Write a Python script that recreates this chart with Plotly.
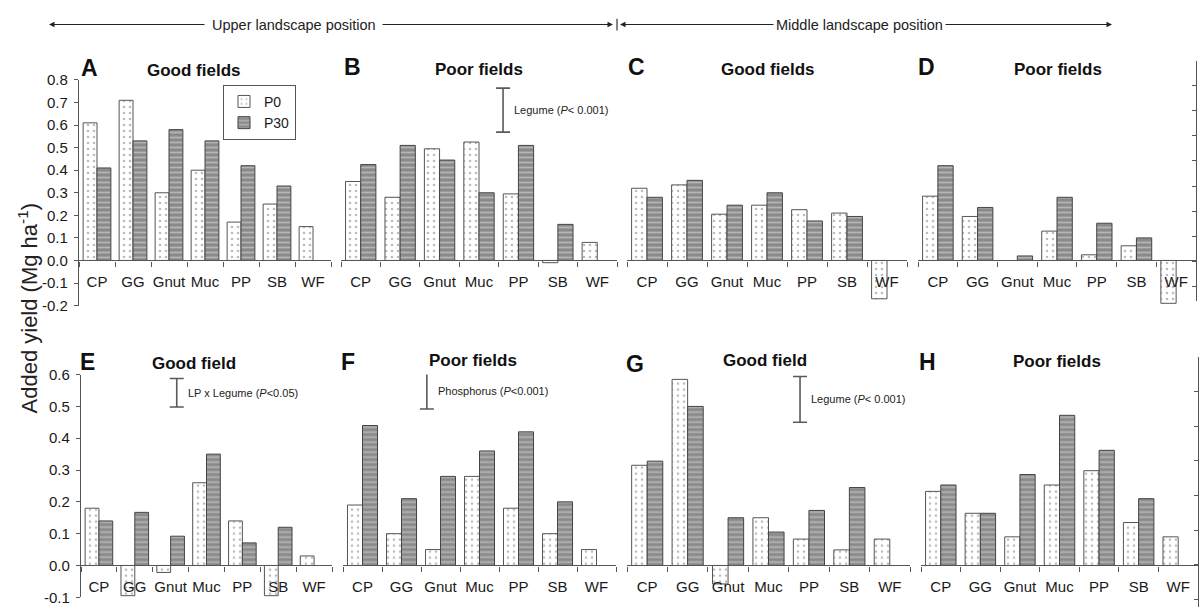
import plotly.graph_objects as go

W, H = 1201, 615
FONT = "Liberation Sans, Arial, Helvetica, sans-serif"

crops = ["CP", "GG", "Gnut", "Muc", "PP", "SB", "WF"]

# Added yield (Mg/ha), P0 and P30 for each panel
A_p0 = [0.61, 0.71, 0.30, 0.40, 0.17, 0.25, 0.15]
A_p30 = [0.41, 0.53, 0.58, 0.53, 0.42, 0.33, None]
B_p0 = [0.35, 0.28, 0.495, 0.525, 0.295, -0.01, 0.08]
B_p30 = [0.425, 0.51, 0.445, 0.30, 0.51, 0.16, None]
C_p0 = [0.32, 0.335, 0.205, 0.245, 0.225, 0.21, -0.17]
C_p30 = [0.28, 0.355, 0.245, 0.30, 0.175, 0.195, None]
D_p0 = [0.285, 0.195, None, 0.13, 0.025, 0.065, -0.19]
D_p30 = [0.42, 0.235, 0.02, 0.28, 0.165, 0.10, None]
E_p0 = [0.18, -0.095, -0.022, 0.26, 0.14, -0.095, 0.03]
E_p30 = [0.14, 0.167, 0.092, 0.35, 0.071, 0.12, None]
F_p0 = [0.19, 0.10, 0.05, 0.28, 0.18, 0.10, 0.05]
F_p30 = [0.44, 0.21, 0.28, 0.36, 0.42, 0.20, None]
G_p0 = [0.315, 0.585, -0.058, 0.15, 0.083, 0.049, 0.083]
G_p30 = [0.328, 0.50, 0.15, 0.105, 0.173, 0.245, None]
H_p0 = [0.233, 0.164, 0.09, 0.253, 0.298, 0.135, 0.09]
H_p30 = [0.253, 0.164, 0.286, 0.472, 0.362, 0.21, None]

letters = ["A", "B", "C", "D", "E", "F", "G", "H"]
titles = ["Good fields", "Poor fields", "Good fields", "Poor fields",
          "Good field", "Poor fields", "Good field", "Poor fields"]
p0_sets = [A_p0, B_p0, C_p0, D_p0, E_p0, F_p0, G_p0, H_p0]
p30_sets = [A_p30, B_p30, C_p30, D_p30, E_p30, F_p30, G_p30, H_p30]

# LSD-type significance bars: panel index, x position (category units), low, high, label
sig_panels = [1, 4, 5, 6]
sig_x = [3.61, 2.17, 1.65, 3.78]
sig_low = [0.569, 0.498, 0.492, 0.45]
sig_high = [0.764, 0.588, 0.605, 0.594]
sig_labels = ["Legume (<i>P</i>&lt; 0.001)", "LP x Legume (<i>P</i>&lt;0.05)",
              "Phosphorus (<i>P</i>&lt;0.001)", "Legume (<i>P</i>&lt; 0.001)"]

top_ticks = [-0.2, -0.1, 0.0, 0.1, 0.2, 0.3, 0.4, 0.5, 0.6, 0.7, 0.8]
top_ticktext = ["-0.2", "-0.1", "0.0", "0.1", "0.2", "0.3", "0.4", "0.5", "0.6", "0.7", "0.8"]
bot_ticks = [-0.1, 0.0, 0.1, 0.2, 0.3, 0.4, 0.5, 0.6]
bot_ticktext = ["-0.1", "0.0", "0.1", "0.2", "0.3", "0.4", "0.5", "0.6"]


def px(x):
    return x / W


def py(y):
    return 1 - y / H


# layout geometry (pixels)
x_dom = [(79, 331), (341, 617), (627, 907), (918, 1196),
         (81, 332), (343, 616), (627, 910), (921, 1198)]
row_ydom = [(305, 73), (605, 376)]
row_range = [(-0.2, 0.8), (-0.1, 0.6)]
letter_pos = [(89, 61), (352, 60), (636, 60), (926, 60),
              (87, 363), (348, 363), (635, 365), (927, 363)]
title_pos = [(194, 63), (479, 62), (768, 62), (1058, 62),
             (194, 365), (473, 361), (765, 362), (1057, 363)]

AXC = "#555555"
fig = go.Figure()
layout = dict(
    width=W, height=H, margin=dict(l=0, r=0, t=0, b=0),
    paper_bgcolor="white", plot_bgcolor="rgba(0,0,0,0)",
    font=dict(family=FONT, color="#1a1a1a", size=15),
    barmode="group", bargap=0.23, bargroupgap=0,
    showlegend=True,
    legend=dict(x=px(223), y=py(78), xanchor="left", yanchor="top",
                bordercolor=AXC, borderwidth=1, bgcolor="white",
                font=dict(size=14, family=FONT), tracegroupgap=0,
                itemwidth=30),
)
annotations = []
shapes = []

idx = list(range(len(crops)))
for i in range(8):
    n = i + 1
    row = 0 if i < 4 else 1
    xa, ya = f"x{n}" if n > 1 else "x", f"y{n}" if n > 1 else "y"
    fig.add_trace(go.Bar(
        x=idx, y=p0_sets[i], name="P0", xaxis=xa, yaxis=ya,
        showlegend=(i == 0), legendgroup="P0",
        marker=dict(color="white", line=dict(color=AXC, width=1),
                    pattern=dict(shape=".", bgcolor="white", fgcolor="#7a7a7a",
                                 size=6, solidity=0.15)),
    ))
    fig.add_trace(go.Bar(
        x=idx, y=p30_sets[i], name="P30", xaxis=xa, yaxis=ya,
        showlegend=(i == 0), legendgroup="P30",
        marker=dict(color="#8a8a8a", line=dict(color="#444444", width=1),
                    pattern=dict(shape="-", bgcolor="#8a8a8a", fgcolor="#e2e2e2",
                                 size=5, solidity=0.35)),
    ))
    yd0, yd1 = py(row_ydom[row][0]), py(row_ydom[row][1])
    rlo, rhi = row_range[row]
    zero_pos = yd0 + (0 - rlo) / (rhi - rlo) * (yd1 - yd0)
    xkey = "xaxis" if n == 1 else f"xaxis{n}"
    ykey = "yaxis" if n == 1 else f"yaxis{n}"
    layout[xkey] = dict(
        domain=[px(x_dom[i][0]), px(x_dom[i][1])], range=[-0.5, 6.5],
        anchor="free", position=zero_pos,
        tickvals=idx, ticktext=crops, ticks="", showgrid=False, zeroline=False,
        showline=True, linecolor=AXC, linewidth=1.3,
        tickfont=dict(size=15, family=FONT, color="#1a1a1a"),
        ticklabelstandoff=7,
        minor=dict(tickvals=[k - 0.5 for k in range(len(crops) + 1)],
                   ticks="outside", ticklen=5, tickcolor=AXC, tickwidth=1.2),
        fixedrange=True,
    )
    show_y = (i in (0, 4))
    layout[ykey] = dict(
        domain=[yd0, yd1], range=[rlo, rhi], anchor=xa,
        showgrid=False, zeroline=False, visible=show_y,
        showline=show_y, linecolor=AXC, linewidth=1.3,
        ticks="outside" if show_y else "", ticklen=4, tickcolor=AXC,
        tickvals=top_ticks if row == 0 else bot_ticks,
        ticktext=top_ticktext if row == 0 else bot_ticktext,
        tickfont=dict(size=15, family=FONT, color="#1a1a1a"),
        ticklabelstandoff=3, fixedrange=True,
    )
    annotations.append(dict(
        x=px(letter_pos[i][0]), y=py(letter_pos[i][1]), xref="paper", yref="paper",
        text=f"<b>{letters[i]}</b>", showarrow=False,
        font=dict(size=23, family=FONT, color="#111"), xanchor="center", yanchor="middle"))
    annotations.append(dict(
        x=px(title_pos[i][0]), y=py(title_pos[i][1]), xref="paper", yref="paper",
        text=f"<b>{titles[i]}</b>", showarrow=False,
        font=dict(size=17, family=FONT, color="#111"), xanchor="center", yanchor="middle"))

# significance bars
for j, pi in enumerate(sig_panels):
    n = pi + 1
    xa, ya = f"x{n}", f"y{n}"
    mid = (sig_low[j] + sig_high[j]) / 2
    half = (sig_high[j] - sig_low[j]) / 2
    fig.add_trace(go.Scatter(
        x=[sig_x[j]], y=[mid], xaxis=xa, yaxis=ya, mode="markers",
        marker=dict(size=1, color="rgba(0,0,0,0)"), showlegend=False,
        error_y=dict(type="data", array=[half], symmetric=True,
                     color="#5a5a5a", thickness=1.6, width=7),
        hoverinfo="skip",
    ))
    annotations.append(dict(
        x=sig_x[j], y=mid, xref=xa, yref=ya, text=sig_labels[j], showarrow=False,
        xanchor="left", yanchor="middle", xshift=9,
        font=dict(size=11, family=FONT, color="#222")))

# right-edge axes of the cut-off neighbouring panels
fig.add_trace(go.Scatter(x=[], y=[], xaxis="x9", yaxis="y9", showlegend=False))
fig.add_trace(go.Scatter(x=[], y=[], xaxis="x10", yaxis="y10", showlegend=False))
layout["xaxis9"] = dict(domain=[px(918), px(1196)], anchor="y9", visible=False, range=[0, 1])
layout["yaxis9"] = dict(domain=[py(300), py(53)], anchor="x9", side="right",
                        range=[-0.57, 9], tick0=0, dtick=1, showline=True,
                        linecolor=AXC, linewidth=1.3, ticks="inside", ticklen=4,
                        tickcolor=AXC, showticklabels=False, showgrid=False,
                        zeroline=False)
layout["xaxis10"] = dict(domain=[px(921), px(1198)], anchor="y10", visible=False, range=[0, 1])
layout["yaxis10"] = dict(domain=[0, py(358)], anchor="x10", side="right",
                         range=[-0.22, 7], tick0=0, dtick=1, showline=True,
                         linecolor=AXC, linewidth=1.3, ticks="inside", ticklen=4,
                         tickcolor=AXC, showticklabels=False, showgrid=False,
                         zeroline=False)

# y title
annotations.append(dict(
    x=px(28), y=py(308), xref="paper", yref="paper",
    text="Added yield (Mg ha<sup>-1</sup>)", textangle=-90, showarrow=False,
    font=dict(size=22, family=FONT, color="#222"), xanchor="center", yanchor="middle"))

# landscape position header
hy = py(16)
for head, tail in [(49, 206), (613, 381), (620, 775), (1112, 944)]:
    annotations.append(dict(
        x=px(head), y=hy, xref="paper", yref="paper", text="",
        showarrow=True, ax=tail - head, ay=0, axref="pixel", ayref="pixel",
        arrowhead=2, arrowsize=1, arrowwidth=1.1, arrowcolor="#222", standoff=0,
        startstandoff=0))
shapes.append(dict(type="line", xref="paper", yref="paper",
                   x0=px(617), x1=px(617), y0=py(10), y1=py(22),
                   line=dict(color="#222", width=1.1)))
annotations.append(dict(x=px(294), y=hy, xref="paper", yref="paper",
                        text="Upper landscape position", showarrow=False,
                        font=dict(size=14.5, family=FONT, color="#222"),
                        xanchor="center", yanchor="middle"))
annotations.append(dict(x=px(859), y=hy, xref="paper", yref="paper",
                        text="Middle landscape position", showarrow=False,
                        font=dict(size=14.5, family=FONT, color="#222"),
                        xanchor="center", yanchor="middle"))

layout["annotations"] = annotations
layout["shapes"] = shapes
fig.update_layout(**layout)
fig.write_html("out.html", config={"displayModeBar": False})
